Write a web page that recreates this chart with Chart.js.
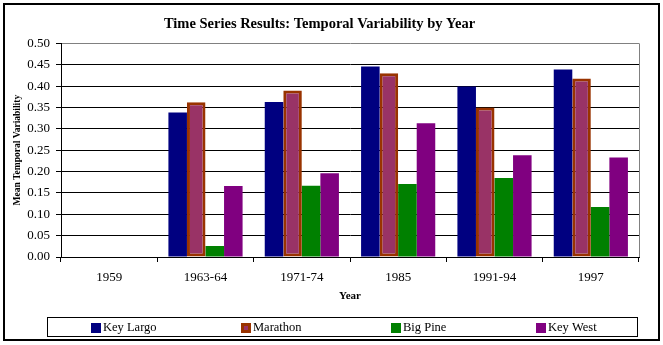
<!DOCTYPE html>
<html>
<head>
<meta charset="utf-8">
<style>
  html, body { margin: 0; padding: 0; background: #ffffff; }
  canvas { display: block; }
</style>
<script src="https://cdn.jsdelivr.net/npm/chart.js@4/dist/chart.umd.min.js"></script>
</head>
<body>
<canvas id="c" width="663" height="345"></canvas>
<script>
// ---- Data ----
const categories = ['1959', '1963-64', '1971-74', '1985', '1991-94', '1997'];
const keyLargo = [null, 0.338, 0.363, 0.446, 0.399, 0.439];
const marathon = [null, 0.362, 0.390, 0.430, 0.350, 0.418];
const bigPine  = [null, 0.026, 0.167, 0.171, 0.185, 0.117];
const keyWest  = [null, 0.166, 0.196, 0.313, 0.238, 0.233];
const seriesNames = ['Key Largo', 'Marathon', 'Big Pine', 'Key West'];
const yTicks = [0, 0.05, 0.10, 0.15, 0.20, 0.25, 0.30, 0.35, 0.40, 0.45, 0.50];

const SERIF = "'Liberation Serif', 'Times New Roman', serif";

// Outer frame + right plot border
const framePlugin = {
  id: 'frame',
  beforeDraw(chart) {
    const ctx = chart.ctx;
    ctx.save();
    ctx.fillStyle = '#ffffff';
    ctx.fillRect(0, 0, chart.width, chart.height);
    ctx.strokeStyle = '#000000';
    ctx.lineWidth = 2;
    ctx.strokeRect(4, 4, chart.width - 8, chart.height - 9);
    ctx.restore();
  },
  afterDatasetsDraw(chart) {
    const ctx = chart.ctx;
    const a = chart.chartArea;
    ctx.save();
    ctx.strokeStyle = '#808080';
    ctx.lineWidth = 1;
    ctx.beginPath();
    ctx.moveTo(Math.round(a.right) + 0.5, a.top);
    ctx.lineTo(Math.round(a.right) + 0.5, a.bottom);
    ctx.stroke();
    ctx.restore();
  }
};

// Boxed legend at the bottom
const boxLegendPlugin = {
  id: 'boxLegend',
  afterDraw(chart) {
    const ctx = chart.ctx;
    const left = 47, right = 637, top = 317, bottom = 336;
    ctx.save();
    ctx.strokeStyle = '#000000';
    ctx.lineWidth = 1;
    ctx.strokeRect(left + 0.5, top + 0.5, right - left, bottom - top);
    const n = chart.data.datasets.length;
    const slot = (right - left) / n;
    ctx.font = '12.5px ' + SERIF;
    ctx.textBaseline = 'middle';
    ctx.textAlign = 'left';
    const cy = (top + bottom) / 2 + 1;
    chart.data.datasets.forEach((ds, i) => {
      const tw = ctx.measureText(ds.label).width;
      const box = 10, gap = 2;
      const w = box + gap + tw;
      const x0 = Math.round(left + slot * i + (slot - w) / 2 + 3);
      const by = Math.round(cy - box / 2);
      ctx.fillStyle = ds.backgroundColor;
      ctx.fillRect(x0, by, box, box);
      if (ds.borderWidth) {
        ctx.strokeStyle = ds.borderColor;
        ctx.lineWidth = ds.borderWidth;
        ctx.strokeRect(x0 + ds.borderWidth / 2, by + ds.borderWidth / 2, box - ds.borderWidth, box - ds.borderWidth);
      }
      ctx.fillStyle = '#000000';
      ctx.fillText(ds.label, x0 + box + gap, cy);
    });
    ctx.restore();
  }
};

const datasets = [
  { label: seriesNames[0], data: keyLargo, backgroundColor: '#000080', borderWidth: 0 },
  { label: seriesNames[1], data: marathon, backgroundColor: '#993366', borderColor: '#993300', borderWidth: 3, borderSkipped: false },
  { label: seriesNames[2], data: bigPine, backgroundColor: '#008000', borderWidth: 0 },
  { label: seriesNames[3], data: keyWest, backgroundColor: '#800080', borderWidth: 0 }
];

new Chart(document.getElementById('c'), {
  type: 'bar',
  data: { labels: categories, datasets: datasets },
  options: {
    responsive: false,
    animation: false,
    devicePixelRatio: 1,
    datasets: { bar: { categoryPercentage: 0.77, barPercentage: 1.0 } },
    layout: { padding: { left: 0, right: 24, top: 0, bottom: 38 } },
    plugins: {
      legend: { display: false },
      tooltip: { enabled: false },
      title: {
        display: true,
        text: 'Time Series Results: Temporal Variability by Year',
        color: '#000000',
        font: { family: SERIF, size: 14.5, weight: 'bold' },
        padding: { top: 16, bottom: 10 }
      }
    },
    scales: {
      x: {
        type: 'category',
        offset: true,
        grid: { offset: true, drawOnChartArea: false, drawTicks: true, tickLength: 5, color: '#000000' },
        border: { color: '#000000', width: 1 },
        ticks: { color: '#000000', font: { family: SERIF, size: 13 }, padding: 8, maxRotation: 0, autoSkip: false },
        title: {
          display: true, text: 'Year', color: '#000000',
          font: { family: SERIF, size: 11, weight: 'bold' },
          padding: { top: 0, bottom: 4 }
        },
        afterFit(scale) { scale.height = 50; }
      },
      y: {
        min: 0, max: 0.5,
        afterBuildTicks(scale) { scale.ticks = yTicks.map(v => ({ value: v })); },
        grid: {
          color: ctx => (ctx.tick && ctx.tick.value === 0.5) ? '#808080' : '#000000',
          tickColor: '#000000',
          lineWidth: 1, drawTicks: true, tickLength: 5
        },
        border: { color: '#000000', width: 1 },
        ticks: {
          color: '#000000', font: { family: SERIF, size: 13 }, padding: 6,
          callback: v => Number(v).toFixed(2)
        },
        title: {
          display: true, text: 'Mean Temporal Variability', color: '#000000',
          font: { family: SERIF, size: 9.5, weight: 'bold' },
          padding: { top: 12, bottom: 0 }
        },
        afterFit(scale) { scale.width = 61; }
      }
    }
  },
  plugins: [framePlugin, boxLegendPlugin]
});
</script>
</body>
</html>
